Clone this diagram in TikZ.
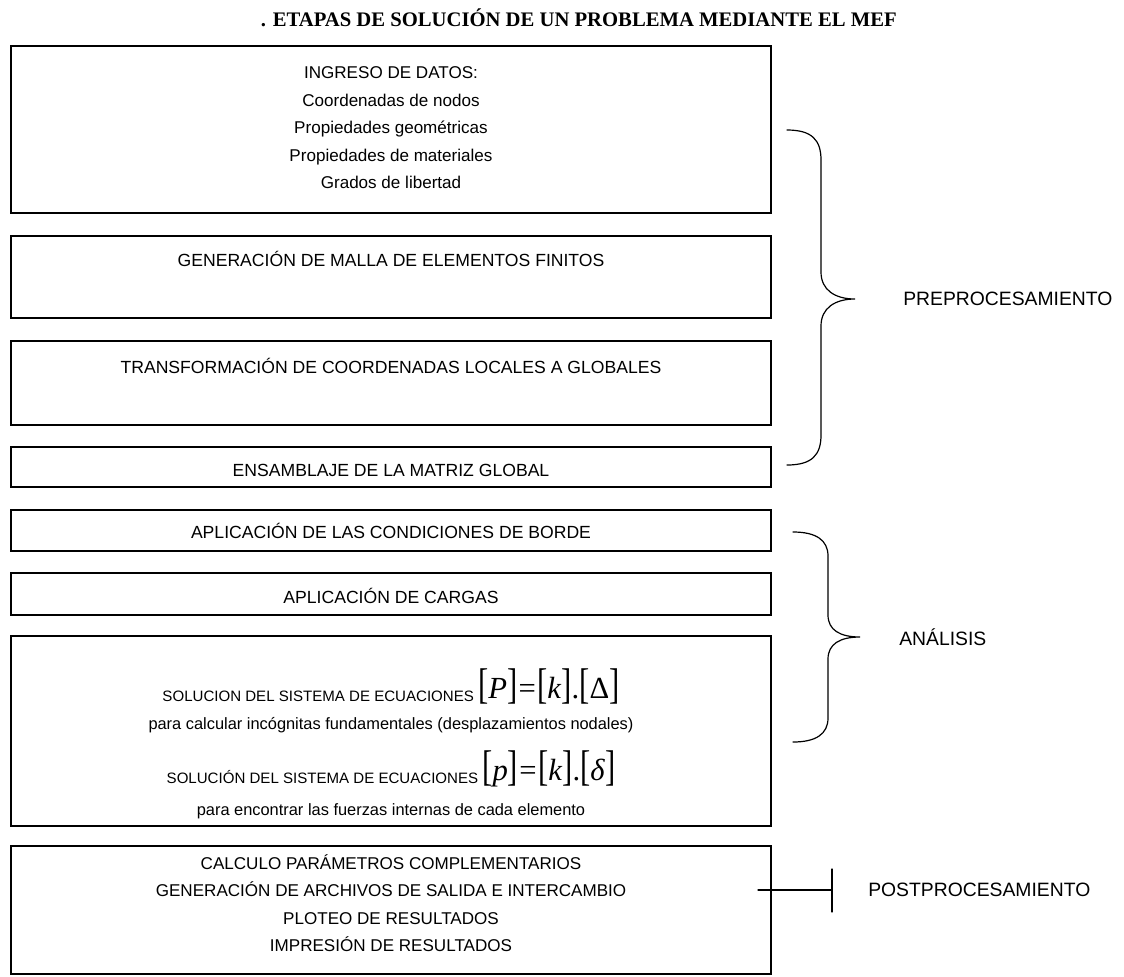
\documentclass[tikz,border=0pt]{standalone}
\usepackage{fontspec}
\setmainfont{Liberation Sans}
\newfontfamily\titfont{Liberation Serif}
\newfontfamily\eqfont{Liberation Serif}
\usepackage{tikz}
\usetikzlibrary{positioning}
\newcommand{\ecutam}{\eqfont\fontsize{23}{28}\selectfont}
\newcommand{\alto}[1]{\scalebox{1}[1.4]{#1}}
\newcommand{\corch}[1]{\alto{[}#1\alto{]}}
\newcommand{\ecuac}[1]{\raisebox{2pt}{\ecutam #1}}

\begin{document}
\begin{tikzpicture}[x=0.75pt,y=-0.75pt,line cap=round,
  caja/.style={line width=1.3pt},
  llave/.style={line width=0.9pt},
  txt/.style={inner sep=0pt,font=\fontsize{13.2}{20.6}\selectfont,align=center},
  lista/.style={inner sep=0pt,font=\fontsize{12.8}{20.6}\selectfont,align=center},
  lado/.style={inner sep=0pt,font=\fontsize{14.5}{17}\selectfont},
  chico/.style={inner sep=0pt,font=\fontsize{12.3}{14}\selectfont},
  menor/.style={inner sep=0pt,font=\fontsize{11.3}{14}\selectfont}]
\useasboundingbox (0,0) rectangle (1124,976);
% titulo
\node[inner sep=0pt,anchor=east,font=\titfont\bfseries\fontsize{15.5}{19}\selectfont] (titulo) at (897,18) {. ETAPAS DE SOLUCIÓN DE UN PROBLEMA MEDIANTE EL MEF};
% cajas
\draw[caja] (11,46) rectangle (771,213);
\draw[caja] (11,236) rectangle (771,318);
\draw[caja] (11,341) rectangle (771,425);
\draw[caja] (11,447) rectangle (771,487);
\draw[caja] (11,510) rectangle (771,551);
\draw[caja] (11,573) rectangle (771,615);
\draw[caja] (11,636) rectangle (771,826);
\draw[caja] (11,846) rectangle (771,974);
% textos
\node[lista] (datos) at (391,128) {INGRESO DE DATOS:\\Coordenadas de nodos\\Propiedades geométricas\\Propiedades de materiales\\Grados de libertad};
\node[txt] (malla) at (391,259) {GENERACIÓN DE MALLA DE ELEMENTOS FINITOS};
\node[txt] (transf) at (391,366) {TRANSFORMACIÓN DE COORDENADAS LOCALES A GLOBALES};
\node[txt] (ensam) at (391,470) {ENSAMBLAJE DE LA MATRIZ GLOBAL};
\node[txt] (borde) at (391,531) {APLICACIÓN DE LAS CONDICIONES DE BORDE};
\node[txt] (cargas) at (391,596) {APLICACIÓN DE CARGAS};
\node[menor,anchor=base] (sol1) at (391,701) {SOLUCION DEL SISTEMA DE ECUACIONES \ecuac{\corch{\textit{P}}\kern1pt=\kern1pt\corch{\textit{k}}.\corch{Δ}}};
\node[chico] (calc) at (391,725) {para calcular incógnitas fundamentales (desplazamientos nodales)};
\node[menor,anchor=base] (sol2) at (391,783) {SOLUCIÓN DEL SISTEMA DE ECUACIONES \ecuac{\corch{\textit{p}}\kern1pt=\kern1pt\corch{\textit{k}}.\corch{\textit{δ}}}};
\node[chico] (fuerzas) at (391,811) {para encontrar las fuerzas internas de cada elemento};
\node[lista] (post) at (391,903) {CALCULO PARÁMETROS COMPLEMENTARIOS\\GENERACIÓN DE ARCHIVOS DE SALIDA E INTERCAMBIO\\PLOTEO DE RESULTADOS\\IMPRESIÓN DE RESULTADOS};
% llaves y etiquetas
\draw[llave] (787,130) .. controls (812,130) and (821,140) .. (821,160) -- (821,272)
  .. controls (821,290) and (835,299) .. (855,299)
  .. controls (835,299) and (821,308) .. (821,326) -- (821,435)
  .. controls (821,455) and (812,465) .. (787,465);
\node[lado,anchor=west] (pre) at (903,299) {PREPROCESAMIENTO};
\draw[llave] (793,532) .. controls (816,532) and (828,540) .. (828,556) -- (828,615)
  .. controls (828,630) and (840,637) .. (860,637)
  .. controls (840,637) and (828,644) .. (828,659) -- (828,718)
  .. controls (828,734) and (816,742) .. (793,742);
\node[lado,anchor=west] (ana) at (899,637) {ANÁLISIS};
\draw[llave] (758,890) -- (832,890);
\draw[llave] (832,869) -- (832,912);
\node[lado,anchor=west] (pos) at (868,890) {POSTPROCESAMIENTO};
\end{tikzpicture}
\end{document}
